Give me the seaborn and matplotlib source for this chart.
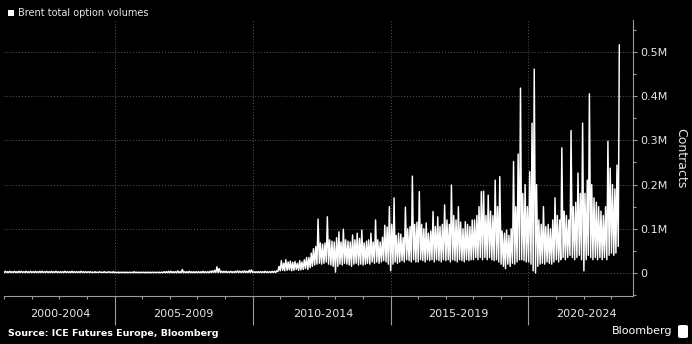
import matplotlib
matplotlib.use("Agg")
import matplotlib.pyplot as plt
import matplotlib.dates as mdates
import matplotlib.ticker as mticker
from matplotlib.patches import Rectangle, FancyBboxPatch
import pandas as pd
import seaborn as sns

# ---------------- data (thousand contracts, monthly high / low) ----------------
series_label = "Brent total option volumes"
y_label = "Contracts"
source_text = "Source: ICE Futures Europe, Bloomberg"
period_labels = ["2000-2004", "2005-2009", "2010-2014", "2015-2019", "2020-2024"]
y_ticks = [0, 100, 200, 300, 400, 500]
y_tick_labels = ["0", "0.1M", "0.2M", "0.3M", "0.4M", "0.5M"]
first_month = "2001-01-01"

highs_2001_2009 = [
    4, 3, 4, 3, 4, 3, 4, 4, 3, 4, 3, 4,      # 2001
    3, 4, 3, 4, 4, 3, 4, 3, 4, 3, 4, 3,      # 2002
    3, 3, 4, 3, 3, 4, 3, 3, 3, 4, 3, 3,      # 2003
    3, 3, 2, 3, 2, 3, 2, 3, 2, 3, 2, 3,      # 2004
    2, 2, 2, 2, 2, 2, 2, 2, 3, 2, 2, 2,      # 2005
    2, 2, 2, 2, 2, 2, 2, 2, 2, 3, 3, 4,      # 2006
    4, 3, 3, 5, 3, 8, 3, 3, 4, 3, 3, 3,      # 2007
    3, 3, 4, 3, 3, 4, 5, 6, 14, 10, 4, 4,    # 2008
    4, 3, 4, 3, 4, 5, 4, 4, 5, 4, 6, 7,      # 2009
]
lows_2001_2009 = [
    1, 1, 1, 1, 1, 1, 1, 1, 1, 1, 1, 1,
    1, 1, 1, 1, 1, 1, 1, 1, 1, 1, 1, 1,
    1, 1, 1, 1, 1, 1, 1, 1, 1, 1, 1, 1,
    1, 1, 1, 1, 1, 1, 1, 1, 1, 1, 1, 1,
    0.5, 0.5, 0.5, 0.5, 0.5, 0.5, 0.5, 0.5, 0.5, 0.5, 0.5, 0.5,
    0.5, 0.5, 0.5, 0.5, 0.5, 0.5, 0.5, 0.5, 0.5, 0.5, 0.5, 0.5,
    0.5, 0.5, 0.5, 0.5, 0.5, 0.5, 0.5, 0.5, 0.5, 0.5, 0.5, 0.5,
    0.5, 0.5, 0.5, 0.5, 0.5, 0.5, 1, 1, 1, 1, 1, 1,
    1, 1, 1, 1, 1, 1, 1, 1, 1, 1, 1, 1,
]
highs_2010_2016 = [
    3, 3, 3, 3, 3, 4, 3, 3, 4, 4, 5, 15,                 # 2010
    28, 22, 30, 25, 27, 24, 26, 22, 28, 25, 30, 35,      # 2011
    35, 45, 55, 60, 122, 68, 65, 68, 127, 75, 72, 70,    # 2012
    80, 93, 70, 99, 75, 72, 70, 86, 75, 90, 78, 97,      # 2013
    68, 72, 75, 90, 70, 120, 75, 70, 81, 108, 104, 150,  # 2014
    110, 170, 85, 90, 88, 80, 149, 100, 105, 219, 110, 115,  # 2015
    184, 110, 100, 113, 90, 95, 139, 105, 127, 105, 110, 154,  # 2016
]
lows_2010_2016 = [
    1, 1, 1, 1, 1, 1, 1, 1, 1, 1, 1, 3,
    5, 6, 5, 6, 7, 5, 6, 8, 6, 7, 8, 10,
    8, 12, 15, 18, 20, 22, 20, 22, 25, 20, 18, 15,
    2, 15, 20, 18, 22, 20, 18, 15, 20, 22, 18, 20,
    18, 20, 22, 20, 25, 22, 25, 22, 25, 28, 25, 20,
    5, 20, 25, 22, 25, 28, 25, 30, 28, 25, 30, 25,
    25, 30, 28, 25, 30, 28, 30, 25, 30, 28, 25, 30,
]
highs_2017_2023 = [
    120, 110, 199, 130, 120, 150, 115, 100, 116, 110, 105, 120,  # 2017
    120, 130, 150, 184, 185, 130, 176, 140, 130, 210, 150, 218,  # 2018
    95, 90, 97, 85, 100, 252, 150, 269, 418, 180, 200, 150,      # 2019
    229, 339, 461, 200, 120, 110, 150, 105, 110, 100, 120, 170,  # 2020
    130, 120, 283, 140, 130, 120, 322, 150, 160, 226, 180, 339,  # 2021
    180, 210, 405, 200, 170, 160, 150, 140, 130, 150, 298, 237,  # 2022
    200, 190, 244, 516,                                          # 2023
]
lows_2017_2023 = [
    28, 30, 25, 30, 28, 25, 30, 28, 25, 30, 28, 30,
    30, 35, 30, 35, 30, 35, 30, 35, 30, 28, 30, 25,
    20, 15, 10, 20, 15, 22, 20, 25, 30, 30, 28, 25,
    25, 20, 5, 0, 15, 20, 22, 20, 25, 22, 20, 25,
    30, 25, 30, 35, 30, 35, 40, 35, 30, 35, 40, 30,
    5, 30, 40, 35, 30, 35, 30, 35, 30, 35, 30, 40,
    45, 40, 45, 60,
]

highs = highs_2001_2009 + highs_2010_2016 + highs_2017_2023
lows = lows_2001_2009 + lows_2010_2016 + lows_2017_2023

# zig-zag table (low early in month, high mid-month) to mimic dense daily data
months = pd.date_range(first_month, periods=len(highs), freq="MS")
rows = []
for m, lo, hi in zip(months, lows, highs):
    rows.append((m + pd.Timedelta(days=2), lo))
    rows.append((m + pd.Timedelta(days=16), hi))
df = pd.DataFrame(rows, columns=["date", "volume"])

# ---------------- figure ----------------
sns.set_style("dark")
plt.rcParams["font.family"] = ["DejaVu Sans"]
BG = "black"
GRID = "#5a5a5a"
AXC = "#9a9a9a"
TXT = "#e6e6e6"

fig = plt.figure(figsize=(6.92, 3.44), dpi=100, facecolor=BG)
ax = fig.add_axes([4 / 692, 1 - 296 / 344, (633 - 4) / 692, (296 - 20) / 344])
ax.set_facecolor(BG)

sns.lineplot(data=df, x="date", y="volume", color="white", lw=1.05,
             estimator=None, sort=False, ax=ax)

ax.set_xlim(pd.Timestamp("2000-12-30"), pd.Timestamp("2023-10-15"))
ax.set_ylim(-52, 572)

# y axis on right
ax.yaxis.tick_right()
ax.yaxis.set_label_position("right")
ax.set_yticks(y_ticks)
ax.set_yticklabels(y_tick_labels)
ax.yaxis.set_minor_locator(mticker.MultipleLocator(50))
ax.tick_params(axis="y", which="both", left=False, right=True,
               labelleft=False, labelright=True)
ax.tick_params(axis="y", which="major", colors=AXC, labelcolor=TXT, labelsize=8,
               length=3, width=0.8, direction="out", pad=2)
ax.tick_params(axis="y", which="minor", colors=AXC, length=2, width=0.8, direction="out")
ax.set_ylabel(y_label, color=TXT, fontsize=9, rotation=270, labelpad=14)

# x axis: yearly minor ticks, 5-year dividers as long major ticks
ax.xaxis.set_major_locator(mdates.YearLocator(5, month=1, day=1))
ax.xaxis.set_minor_locator(mdates.YearLocator(1, month=1, day=1))
ax.xaxis.set_major_formatter(mticker.NullFormatter())
ax.tick_params(axis="x", which="both", bottom=True, top=False)
ax.tick_params(axis="x", which="major", colors=AXC, length=21, width=0.8, direction="out")
ax.tick_params(axis="x", which="minor", colors=AXC, length=2.2, width=0.8, direction="out")
ax.set_xlabel("")

# grid
ax.grid(False)
ax.yaxis.grid(True, which="major", color=GRID, ls=(0, (1, 2)), lw=0.7)
ax.xaxis.grid(True, which="major", color=GRID, ls=(0, (1, 2)), lw=0.7)

for side in ["left", "top"]:
    ax.spines[side].set_visible(False)
for side in ["right", "bottom"]:
    ax.spines[side].set_visible(True)
    ax.spines[side].set_color(AXC)
    ax.spines[side].set_linewidth(0.8)

# period labels under the axis
label_centers = ["2003-01-12", "2007-07-01", "2012-07-20", "2017-06-10", "2022-02-01"]
trans = ax.get_xaxis_transform()
for lab, c in zip(period_labels, label_centers):
    ax.text(pd.Timestamp(c), -0.066, lab, transform=trans, ha="center", va="center",
            color=TXT, fontsize=8)

# legend (top-left)
fig.patches.append(Rectangle((8 / 692, 1 - 16 / 344), 6 / 692, 6 / 344,
                             transform=fig.transFigure, facecolor="white", edgecolor="none"))
fig.text(18 / 692, 1 - 13 / 344, series_label, color=TXT, fontsize=7, va="center", ha="left")

# source + brand
fig.text(8 / 692, 1 - 334 / 344, source_text, color="white", fontsize=6.8,
         fontweight="bold", va="center", ha="left")
fig.text(672 / 692, 1 - 331 / 344, "Bloomberg", color="white", fontsize=8,
         va="center", ha="right")
fig.patches.append(FancyBboxPatch((678 / 692, 1 - 338 / 344), 10 / 692, 13 / 344,
                                  boxstyle="round,pad=0,rounding_size=0.004",
                                  transform=fig.transFigure, facecolor="white",
                                  edgecolor="none"))

fig.savefig("out.png", dpi=100, facecolor=BG)
